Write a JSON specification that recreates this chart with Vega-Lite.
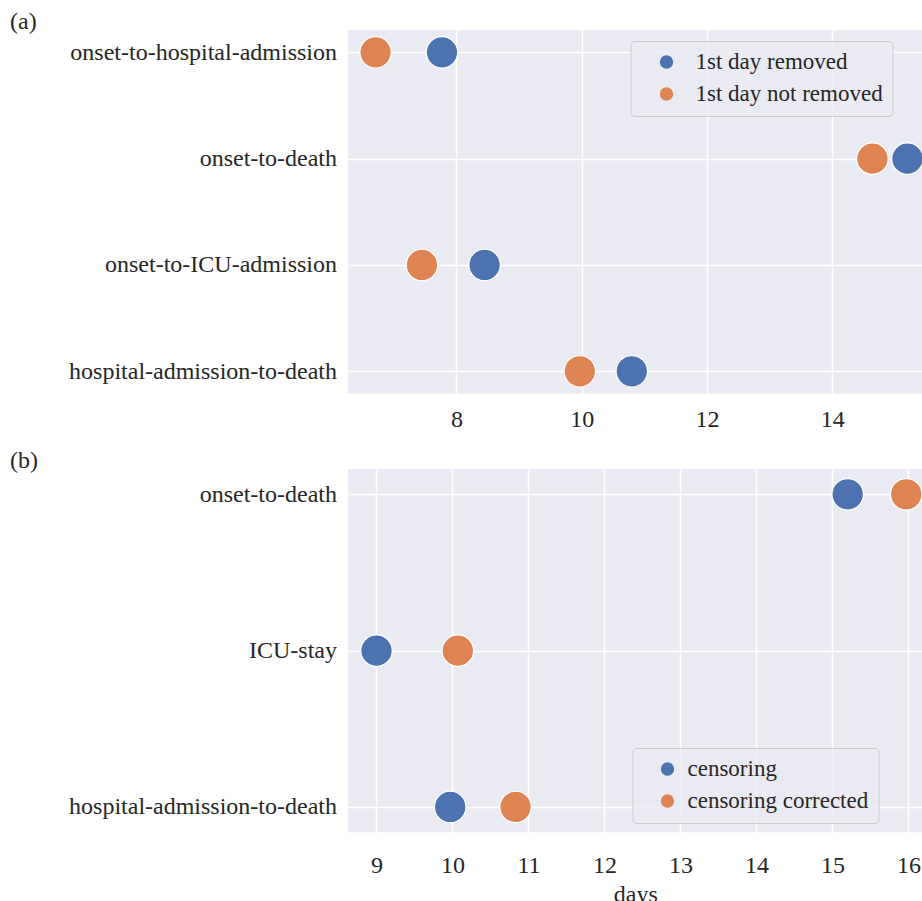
{
  "$schema": "https://vega.github.io/schema/vega-lite/v6.json",
  "background": "white",
  "padding": {"left": 10, "top": 10, "right": 0, "bottom": 0},
  "spacing": 17,
  "config": {
    "font": "Liberation Serif",
    "view": {"fill": "#eaeaf2", "stroke": null},
    "axis": {
      "grid": true, "gridColor": "#ffffff", "gridWidth": 1.5,
      "domain": false, "ticks": false, "tickSize": 0, "labelLimit": 0,
      "labelFont": "Liberation Serif", "labelFontSize": 24, "labelColor": "#262626",
      "titleFont": "Liberation Serif", "titleFontSize": 24, "titleFontWeight": "normal", "titleColor": "#262626"
    },
    "legend": {
      "fillColor": "rgba(234,234,242,0.8)", "strokeColor": "#cccccc", "cornerRadius": 4, "padding": 9.5,
      "symbolType": "circle", "symbolSize": 177, "symbolStrokeWidth": 0, "symbolOpacity": 1,
      "labelFont": "Liberation Serif", "labelFontSize": 23, "labelColor": "#262626", "labelLimit": 0,
      "rowPadding": 8
    },
    "title": {"font": "Liberation Serif", "fontSize": 24, "fontWeight": "normal", "color": "#262626", "anchor": "start", "frame": "group", "baseline": "alphabetic"}
  },
  "resolve": {"scale": {"color": "independent", "x": "independent", "y": "independent"}, "legend": {"color": "independent"}},
  "vconcat": [
    {
      "title": {"text": "(a)", "dx": -338, "offset": -4},
      "width": 620,
      "height": 363.6,
      "data": {"values": [
        {"measure": "onset-to-hospital-admission", "series": "1st day not removed", "days": 6.71},
        {"measure": "onset-to-hospital-admission", "series": "1st day removed", "days": 7.77},
        {"measure": "onset-to-death", "series": "1st day not removed", "days": 14.64},
        {"measure": "onset-to-death", "series": "1st day removed", "days": 15.2},
        {"measure": "onset-to-ICU-admission", "series": "1st day not removed", "days": 7.45},
        {"measure": "onset-to-ICU-admission", "series": "1st day removed", "days": 8.45},
        {"measure": "hospital-admission-to-death", "series": "1st day not removed", "days": 9.97},
        {"measure": "hospital-admission-to-death", "series": "1st day removed", "days": 10.8}
      ]},
      "mark": {"type": "circle", "size": 990, "opacity": 1, "stroke": "white", "strokeWidth": 1.2},
      "encoding": {
        "x": {"field": "days", "type": "quantitative",
              "scale": {"domain": [6.27, 16.166], "nice": false, "zero": false},
              "axis": {"values": [8, 10, 12, 14], "title": null, "labelPadding": 14}},
        "y": {"field": "measure", "type": "nominal",
              "sort": ["onset-to-hospital-admission", "onset-to-death", "onset-to-ICU-admission", "hospital-admission-to-death"],
              "scale": {"type": "point", "padding": 0.21},
              "axis": {"title": null, "labelPadding": 11.5}},
        "color": {"field": "series", "type": "nominal",
                  "scale": {"domain": ["1st day removed", "1st day not removed"], "range": ["#4c72b0", "#dd8452"]},
                  "legend": {"title": null, "orient": "none", "legendX": 282.5, "legendY": 11, "symbolOffset": 15, "labelOffset": 17.5}},
        "order": {"field": "series", "sort": "ascending"}
      }
    },
    {
      "title": {"text": "(b)", "dx": -338, "offset": -4},
      "width": 620,
      "height": 363.3,
      "data": {"values": [
        {"measure": "onset-to-death", "series": "censoring", "days": 15.2},
        {"measure": "onset-to-death", "series": "censoring corrected", "days": 15.97},
        {"measure": "ICU-stay", "series": "censoring", "days": 9.0},
        {"measure": "ICU-stay", "series": "censoring corrected", "days": 10.07},
        {"measure": "hospital-admission-to-death", "series": "censoring", "days": 9.97},
        {"measure": "hospital-admission-to-death", "series": "censoring corrected", "days": 10.83}
      ]},
      "mark": {"type": "circle", "size": 990, "opacity": 1, "stroke": "white", "strokeWidth": 1.2},
      "encoding": {
        "x": {"field": "days", "type": "quantitative",
              "scale": {"domain": [8.625, 16.783], "nice": false, "zero": false},
              "axis": {"values": [9, 10, 11, 12, 13, 14, 15, 16], "title": "days", "titleX": 287.25, "labelPadding": 21, "titlePadding": 5}},
        "y": {"field": "measure", "type": "nominal",
              "sort": ["onset-to-death", "ICU-stay", "hospital-admission-to-death"],
              "scale": {"type": "point", "padding": 0.162},
              "axis": {"title": null, "labelPadding": 11.5}},
        "color": {"field": "series", "type": "nominal",
                  "scale": {"domain": ["censoring", "censoring corrected"], "range": ["#4c72b0", "#dd8452"]},
                  "legend": {"title": null, "orient": "none", "legendX": 284.5, "legendY": 279, "symbolOffset": 14, "labelOffset": 8.5}}
      }
    }
  ]
}
